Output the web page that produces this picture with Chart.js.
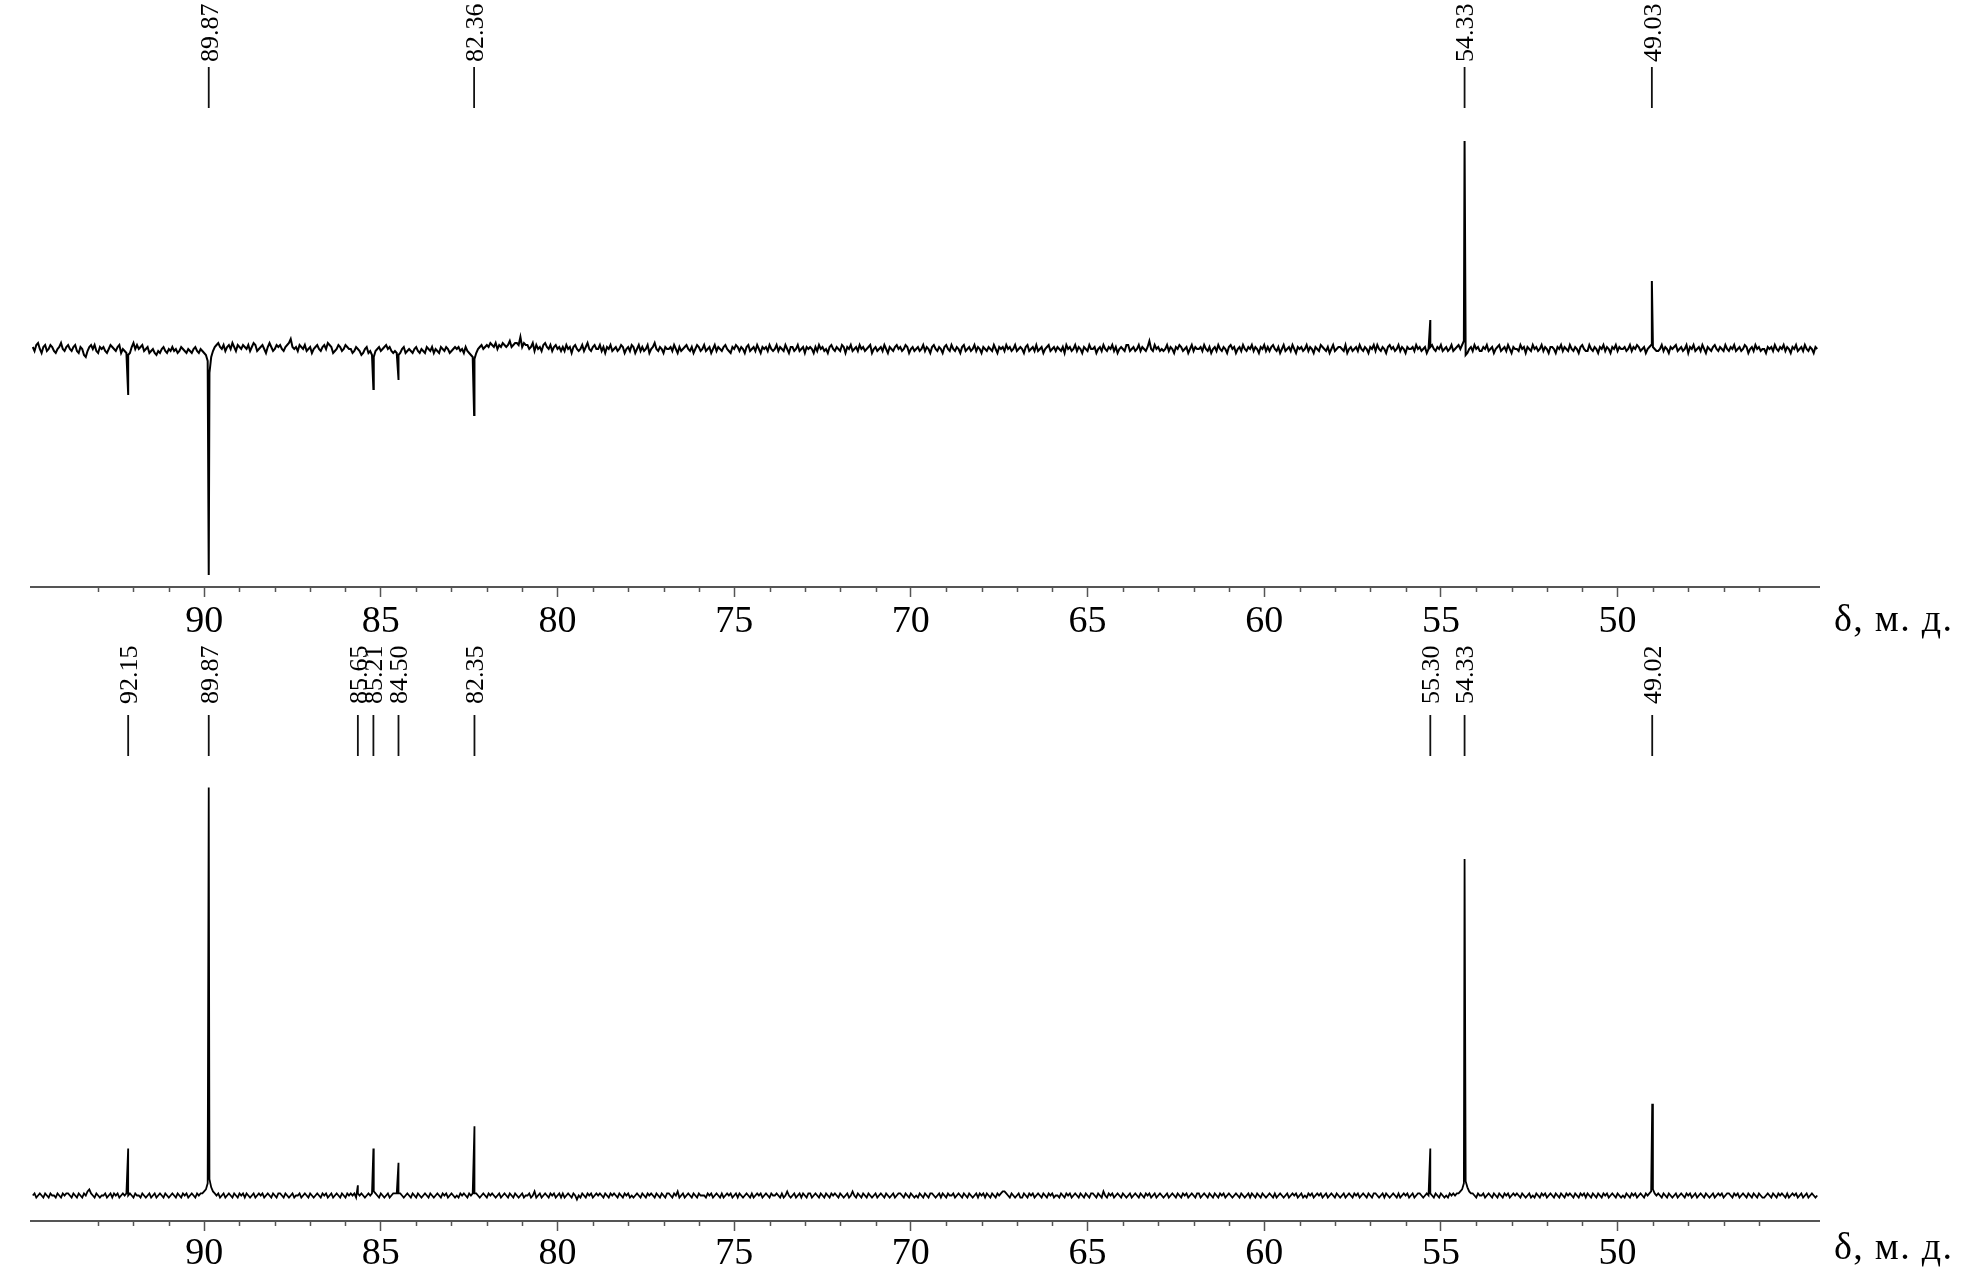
<!DOCTYPE html>
<html>
<head>
<meta charset="utf-8">
<script src="https://cdn.jsdelivr.net/npm/chart.js@4.4.1/dist/chart.umd.min.js"></script>
<style>
  html, body { margin: 0; padding: 0; background: #fff; }
  #wrap { position: relative; width: 1967px; height: 1277px; overflow: hidden; background: #fff; }
  canvas { position: absolute; left: 0; }
  #c1 { top: 0; }
  #c2 { top: 640px; }
</style>
</head>
<body>
<div id="wrap">
  <canvas id="c1" width="1967" height="640"></canvas>
  <canvas id="c2" width="1967" height="637"></canvas>
</div>
<script>
// ---- sampling grid of the spectra (ppm), one row below = 1 ppm ----
const gridStart = 94.85;
const gridStep = 0.05;

// ---- axis ----
const axisMin = 44.3;
const axisMax = 94.9;
const majorTickLabels = [90, 85, 80, 75, 70, 65, 60, 55, 50];
const axisTitle = 'δ, м. д.';

// ---- top spectrum (DEPT, relative intensity) ----
const topNoise = [
  1,-1,2,3,0,-2,1,2,-1,0,2,1,-1,-2,0,1,3,0,-1,1,
  2,0,-1,1,2,-1,-2,1,0,-3,-4,-1,1,2,0,2,-1,-2,1,0,
  1,-1,-2,0,2,1,0,-1,1,2,-2,0,-1,-2,-3,-2,1,3,0,2,
  0,1,2,-1,0,1,-2,-1,0,-2,-3,-1,-2,0,1,-1,-2,0,-1,1,
  -1,0,-2,-1,1,0,-1,-2,0,-1,-2,0,1,-1,-2,0,-1,-2,-3,-6,
  -12,-4,-1,1,2,3,1,0,2,-1,1,2,0,3,1,-1,2,1,0,2,
  1,0,2,-1,1,3,2,-1,0,1,2,0,-2,1,3,1,-1,0,2,1,
  2,0,-1,1,2,3,5,1,0,1,-1,2,1,0,2,-1,0,1,-2,0,
  1,2,0,-1,1,2,0,3,2,1,-2,-1,0,2,1,-1,0,2,1,0,
  0,-2,-1,1,0,-1,-3,-2,0,1,-2,-1,-3,-4,-1,0,1,-1,0,1,
  2,0,1,-1,-2,-1,-2,-3,-2,0,1,-2,-1,0,-1,-2,0,1,-1,-2,
  0,-1,-2,1,0,-1,1,-2,0,-1,-2,1,0,-1,1,0,-2,-1,0,1,
  0,1,-1,0,-2,1,-1,-2,-3,-4,-5,-2,0,1,2,0,1,2,1,3,
  2,1,3,0,2,1,3,2,1,2,4,1,2,3,3,2,6,1,3,2,
  2,0,1,3,-1,2,0,1,-1,2,3,1,0,2,-1,1,2,0,1,-1,
  1,-1,2,0,1,-2,1,2,0,-1,0,2,-1,1,3,0,-1,1,2,0,
  0,2,-1,1,-2,1,0,2,-1,0,1,-1,0,2,1,-2,0,1,-1,2,
  1,-2,0,2,-1,1,-1,0,2,-2,0,1,3,0,-1,1,0,-2,1,0,
  0,1,-1,2,0,-2,1,-1,0,1,2,0,-1,1,-2,0,2,1,-1,0,
  2,-1,0,1,-2,0,2,-1,1,0,-1,1,2,0,-1,-2,1,0,2,1,
  -1,1,0,-2,1,2,-1,0,1,-1,2,0,-2,1,0,1,-1,2,0,-1,
  0,2,-1,1,0,-1,2,0,-2,1,1,-1,0,2,-1,0,1,-2,1,0,
  1,0,-2,1,-1,2,0,1,-1,0,-2,1,2,0,-1,1,0,-1,2,1,
  -2,1,0,2,-1,0,1,-1,2,0,1,-1,0,1,2,-2,0,1,-1,0,
  1,-1,2,0,-2,1,0,-1,1,2,0,1,-1,0,2,1,-2,0,1,-1,
  0,1,-1,0,2,-1,1,0,-2,1,2,0,-1,1,0,-2,1,2,0,-1,
  2,0,-1,1,0,-2,1,2,-1,0,1,-1,0,2,-1,1,0,-2,1,0,
  -1,1,0,-1,2,0,-2,1,0,1,-1,2,0,1,-1,0,2,-1,0,1,
  0,-2,1,2,-1,0,1,-1,2,-1,0,1,-2,0,1,2,-1,0,1,-1,
  1,0,-1,1,-2,2,0,1,-1,0,2,-1,1,0,-2,1,0,-1,2,0,
  0,1,-2,0,1,-1,2,0,-1,1,0,2,-1,1,-2,0,1,0,-1,2,
  2,-1,0,1,-1,0,2,-1,1,0,-1,1,4,0,-1,2,0,1,-1,0,
  -1,0,2,-1,1,0,-2,1,0,2,1,-1,0,1,-2,0,2,-1,1,0,
  0,1,-1,2,0,-1,1,-2,0,1,-1,2,0,-1,1,0,-2,1,2,0,
  1,-2,0,1,-1,2,0,-1,1,0,2,-1,1,0,-2,1,0,2,-1,1,
  -1,1,2,0,-1,1,-2,0,2,-1,0,1,-1,2,0,-2,1,0,1,-1,
  0,2,-1,1,0,-2,1,0,-1,2,1,0,-1,1,-2,0,2,-1,0,1,
  1,0,-1,2,-2,0,1,-1,0,1,-1,2,0,-1,1,0,-2,1,0,2,
  -1,2,0,-1,1,0,-2,1,2,0,1,-1,0,2,-1,1,0,-2,1,0,
  0,1,-1,2,0,1,-1,0,1,-2,0,1,2,0,-1,1,0,2,-1,0,
  1,-1,0,2,-1,0,1,2,0,2,4,-3,-2,0,1,-1,2,0,1,-1,
  -1,1,0,2,-1,0,1,-2,0,1,2,-1,0,1,-1,2,0,-2,1,0,
  0,-1,2,0,1,-2,1,0,-1,2,0,1,-1,0,2,-1,1,0,-2,1,
  1,0,-2,1,0,2,-1,1,0,-1,2,0,-1,1,0,-2,1,2,0,-1,
  -1,2,0,-1,1,0,-2,1,0,2,-1,1,0,-2,1,0,2,-1,1,0,
  0,1,-1,0,2,-1,1,0,2,1,-1,0,1,-2,0,1,2,1,0,-1,
  -1,0,2,-1,1,0,-2,1,0,1,2,-1,0,1,-1,0,2,-2,1,0,
  2,-1,0,1,-1,2,0,-2,1,0,-1,1,2,0,-1,1,0,-1,2,0,
  -1,1,0,2,-1,0,1,-1,0,2,1,-2,0,1,-1,2,0,1,-1,0,
  0,-2,1,0,1,-1,2,0,-1,1,0,2,-1,1,0,-2,1,0,2,-1,
  0,1,-1,2,0,-1,1,0,-2,1,0
];
const topPeakPpm = [92.15, 89.87, 85.21, 84.50, 82.36, 55.30, 54.33, 49.03];
const topPeakVal = [-22.5, -113, -20, -15, -33, 14.5, 104, 34];
const topLabels = ['89.87', '82.36', '54.33', '49.03'];

// ---- bottom spectrum (broadband decoupled, relative intensity) ----
const botNoise = [
  0,1,-1,0,1,0,-1,1,0,-1,1,0,0,-1,1,0,-1,1,0,1,
  1,0,-1,1,0,-1,1,0,-1,1,0,2,3,1,0,-1,1,0,-1,0,
  0,1,-1,0,1,-1,1,0,1,-1,0,1,0,1,0,1,0,-1,1,0,
  0,-1,1,0,-1,0,1,-1,0,1,-1,0,1,0,-1,1,0,-1,0,1,
  0,-1,1,0,-1,1,0,1,-1,0,1,0,-1,1,0,1,1,2,3,6,
  8,4,2,1,0,1,-1,0,1,-1,0,1,0,-1,1,0,-1,1,0,1,
  -1,1,0,-1,0,1,-1,0,1,0,1,-1,0,1,0,-1,1,0,-1,1,
  1,0,-1,1,0,-1,0,1,-1,0,0,1,-1,0,1,0,-1,1,0,-1,
  0,1,0,-1,1,0,1,-1,0,1,-1,0,1,0,-1,1,0,-1,1,0,
  1,0,1,-1,1,0,1,0,-1,0,1,0,1,2,1,0,-1,1,0,-1,
  0,1,-1,0,1,1,1,1,1,0,-1,0,1,0,-1,1,0,-1,1,0,
  -1,0,1,0,-1,1,0,-1,0,1,0,-1,1,0,1,-1,0,1,0,-1,
  0,-1,1,0,1,0,-1,1,0,1,1,1,0,-1,0,1,0,-1,1,0,
  1,0,-1,0,1,-1,0,1,0,-1,1,0,-1,1,0,-1,0,1,-1,0,
  0,1,-1,0,2,-1,0,1,-1,0,1,0,-1,1,0,1,-1,0,1,-1,
  1,-1,0,1,0,-1,1,0,-2,0,-1,1,0,-1,1,0,1,-1,0,1,
  0,1,0,-1,1,0,-1,1,0,1,0,-1,1,0,-1,1,0,1,-1,0,
  -1,0,1,0,-1,1,0,-1,1,0,1,0,-1,1,0,-1,1,0,-1,1,
  1,0,-1,1,0,2,-1,0,1,-1,0,1,0,-1,1,0,-1,1,0,0,
  0,-1,1,0,1,-1,0,1,0,-1,1,-1,0,1,0,1,-1,0,1,-1,
  1,0,-1,0,1,0,-1,1,-1,0,1,0,1,-1,0,1,0,-1,1,0,
  0,1,0,-1,1,-1,0,2,0,-1,0,1,-1,0,1,-1,1,0,-1,1,
  1,-1,0,1,0,-1,1,0,-1,1,0,-1,1,0,1,0,-1,1,0,-1,
  0,1,-1,0,2,0,-1,1,0,-1,1,0,-1,1,0,-1,0,1,-1,0,
  1,0,-1,1,0,-1,0,1,-1,0,1,1,0,-1,1,0,-1,1,0,-1,
  0,-1,1,0,-1,1,0,-1,1,1,0,-1,0,1,-1,1,0,-1,1,0,
  0,1,-1,0,1,0,-1,1,0,-1,1,0,-1,0,1,-1,1,0,1,-1,
  1,0,-1,1,0,-1,1,0,1,2,2,1,0,-1,1,0,-1,0,1,-1,
  -1,1,0,-1,1,0,1,-1,0,1,0,-1,1,0,-1,1,0,1,-1,0,
  0,-1,1,0,-1,1,0,1,-1,0,1,0,-1,1,0,-1,1,0,-1,1,
  1,0,-1,1,0,-1,2,0,-1,1,0,1,-1,0,1,0,-1,1,0,-1,
  0,1,-1,0,1,0,-1,1,0,-1,1,0,1,-1,0,1,-1,0,1,0,
  -1,0,1,-1,0,1,0,-1,1,0,-1,1,0,1,-1,0,1,0,-1,1,
  1,-1,0,1,0,-1,1,0,-1,1,0,-1,1,0,1,-1,0,1,0,-1,
  0,1,0,-1,1,0,-1,0,1,-1,1,0,-1,1,0,-1,1,0,-1,0,
  1,0,-1,1,-1,0,1,0,-1,0,1,-1,0,1,0,1,-1,0,1,-1,
  0,-1,1,0,1,-1,0,1,0,1,-1,0,1,-1,0,1,0,-1,1,0,
  -1,0,1,-1,0,1,0,-1,1,0,1,-1,0,1,0,-1,1,0,-1,1,
  1,0,-1,0,1,-1,1,0,-1,0,1,0,-1,1,-1,0,1,0,1,-1,
  0,1,-1,0,1,1,0,-1,0,1,0,1,0,-1,1,0,-1,1,0,-1,
  0,-1,1,0,1,0,1,1,2,3,6,7,4,2,1,1,0,-1,1,0,
  0,1,-1,0,1,0,-1,1,0,-1,1,0,-1,1,0,1,-1,0,1,0,
  1,0,-1,1,0,-1,0,1,-1,0,-1,1,0,-1,1,0,1,-1,0,1,
  0,-1,1,0,-1,1,0,-1,1,0,1,0,-1,1,0,-1,1,0,1,-1,
  1,0,-1,1,0,-1,1,0,-1,1,0,1,-1,0,1,0,-1,1,0,-1,
  0,-1,1,0,-1,1,0,1,-1,0,1,0,-1,1,0,1,2,3,1,0,
  1,0,-1,1,0,-1,1,0,-1,0,1,-1,0,1,0,-1,1,0,1,-1,
  0,1,-1,0,1,0,-1,1,0,-1,0,1,-1,0,1,0,1,-1,0,1,
  1,0,-1,1,0,1,-1,0,1,0,-1,1,0,-1,1,0,-1,1,0,-1,
  -1,0,1,0,-1,1,0,-1,1,0,1,0,-1,1,-1,0,1,0,1,-1,
  0,1,-1,0,1,-1,0,1,0,-1,0
];
const botPeakPpm = [92.15, 89.87, 85.65, 85.21, 84.50, 82.35, 55.30, 54.33, 49.02];
const botPeakVal = [23, 200, 5, 23, 16, 34, 23, 165, 45];
const botLabels = ['92.15', '89.87', '85.65', '85.21', '84.50', '82.35', '55.30', '54.33', '49.02'];

// ---- build series: sampled trace + peak apexes ----
function buildSeries(noise, peakPpm, peakVal) {
  const pts = noise.map((v, i) => ({ x: Math.round((gridStart - i * gridStep) * 1000) / 1000, y: v }));
  peakPpm.forEach((p, k) => pts.push({ x: p + 0.0001, y: peakVal[k] }));
  pts.sort((a, b) => b.x - a.x);
  return pts;
}

const AXIS_COLOR = '#555';
const SERIF = '"Liberation Serif", "Times New Roman", serif';

const decor = {
  id: 'decor',
  afterDraw(chart, args, o) {
    const ctx = chart.ctx, xs = chart.scales.x, area = chart.chartArea;
    ctx.save();
    // minor ticks
    ctx.strokeStyle = AXIS_COLOR;
    ctx.lineWidth = 1.5;
    xs.ticks.forEach(t => {
      if (t.value % 5 !== 0) {
        const px = Math.round(xs.getPixelForValue(t.value)) + 0.5;
        ctx.beginPath();
        ctx.moveTo(px, area.bottom);
        ctx.lineTo(px, area.bottom + o.minorLen);
        ctx.stroke();
      }
    });
    // peak labels
    ctx.strokeStyle = '#111';
    ctx.lineWidth = 1.8;
    ctx.fillStyle = '#000';
    ctx.font = o.labelFont;
    o.labels.forEach(lbl => {
      const px = xs.getPixelForValue(parseFloat(lbl));
      ctx.beginPath();
      ctx.moveTo(px, o.lineTop);
      ctx.lineTo(px, o.lineBottom);
      ctx.stroke();
      ctx.save();
      ctx.translate(px + 2, o.textBottom);
      ctx.rotate(-Math.PI / 2);
      ctx.textAlign = 'left';
      ctx.textBaseline = 'middle';
      ctx.fillText(lbl, 0, 0);
      ctx.restore();
    });
    // axis title
    ctx.font = o.titleFont;
    ctx.textAlign = 'left';
    ctx.textBaseline = 'alphabetic';
    ctx.fillStyle = '#000';
    const w = ctx.measureText(axisTitle).width;
    if ('letterSpacing' in ctx && w < o.titleWidth) {
      ctx.letterSpacing = ((o.titleWidth - w) / (axisTitle.length - 1)).toFixed(2) + 'px';
    }
    ctx.fillText(axisTitle, area.right + o.titleGap, o.titleY);
    ctx.restore();
  }
};

function makeChart(canvasId, noise, peakPpm, peakVal, labels, cfg) {
  return new Chart(document.getElementById(canvasId), {
    type: 'line',
    data: {
      datasets: [{
        data: buildSeries(noise, peakPpm, peakVal),
        borderColor: '#000',
        borderWidth: cfg.lineWidth,
        pointRadius: 0,
        tension: 0,
        fill: false
      }]
    },
    options: {
      responsive: false,
      animation: false,
      devicePixelRatio: 1,
      layout: { padding: { left: 31, right: 148, top: cfg.padTop, bottom: 0 } },
      plugins: {
        legend: { display: false },
        tooltip: { enabled: false },
        decor: {
          labels: labels,
          labelFont: '26px ' + SERIF,
          titleFont: '38px ' + SERIF,
          titleWidth: 118,
          textBottom: cfg.textBottom,
          lineTop: cfg.lineTop,
          lineBottom: cfg.lineBottom,
          minorLen: 5,
          titleGap: 15,
          titleY: cfg.titleY
        }
      },
      scales: {
        x: {
          type: 'linear',
          reverse: true,
          min: axisMin,
          max: axisMax,
          afterBuildTicks: (s) => { s.ticks = s.ticks.filter(t => Number.isInteger(t.value)); },
          afterFit: (s) => { s.height = cfg.axisHeight; },
          ticks: {
            stepSize: 1,
            autoSkip: false,
            maxRotation: 0,
            padding: cfg.tickPad,
            color: '#000',
            font: { family: SERIF, size: 38 },
            callback: (v) => majorTickLabels.includes(v) ? String(v) : ''
          },
          grid: {
            drawOnChartArea: false,
            drawTicks: true,
            tickLength: 10,
            tickWidth: 1.5,
            tickColor: (c) => (c.tick && c.tick.value % 5 === 0) ? AXIS_COLOR : 'rgba(0,0,0,0)'
          },
          border: { display: true, color: AXIS_COLOR, width: 2 }
        },
        y: { type: 'linear', display: false, min: cfg.yMin, max: cfg.yMax }
      }
    },
    plugins: [decor]
  });
}

makeChart('c1', topNoise, topPeakPpm, topPeakVal, topLabels, {
  lineWidth: 2.0, padTop: 130, axisHeight: 53, tickPad: 2,
  yMin: -119, yMax: 109.5,
  textBottom: 62, lineTop: 67, lineBottom: 108, titleY: 631
});
makeChart('c2', botNoise, botPeakPpm, botPeakVal, botLabels, {
  lineWidth: 1.8, padTop: 140, axisHeight: 56, tickPad: 0,
  yMin: -12.5, yMax: 203.7,
  textBottom: 64, lineTop: 75, lineBottom: 116, titleY: 619
});
</script>
</body>
</html>
